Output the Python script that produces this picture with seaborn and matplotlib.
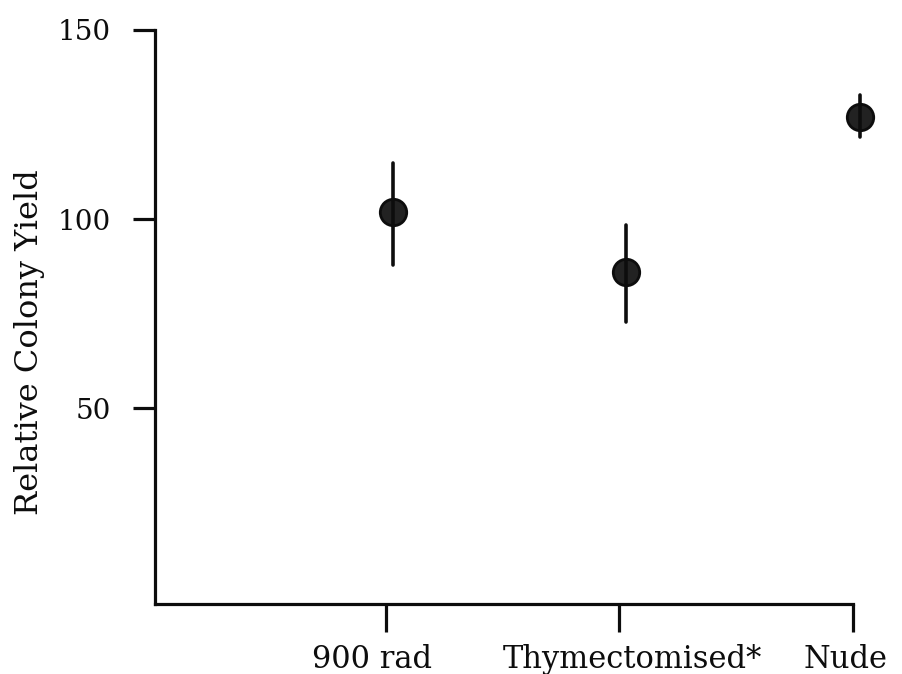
import numpy as np
import pandas as pd
import seaborn as sns
import matplotlib
matplotlib.use("Agg")
import matplotlib.pyplot as plt
from matplotlib.transforms import ScaledTranslation

# ---- data ----
categories = ["900 rad", "Thymectomised*", "Nude"]
yield_mean = [101.9, 86.0, 127.0]
yield_low = [87.8, 72.8, 121.7]
yield_high = [114.8, 98.4, 132.8]
y_ticks = [50, 100, 150]

# long-form table: low/mid/high per group -> median = mid, 100% interval = low..high
rows = []
for c, m, lo, hi in zip(categories, yield_mean, yield_low, yield_high):
    for v in (lo, m, hi):
        rows.append({"group": c, "value": v})
df = pd.DataFrame(rows)

sns.set_theme(style="white")
plt.rcParams["font.family"] = ["DejaVu Serif"]

INK = "#0d0d0d"

fig = plt.figure(figsize=(9.02, 6.74), dpi=100)
ax = fig.add_axes([155 / 902, 1 - 604 / 674, (853 - 155) / 902, (604 - 30) / 674])

sns.pointplot(
    data=df, x="group", y="value", order=categories,
    estimator="median", errorbar=("pi", 100),
    linestyle="none", marker="o", markersize=19,
    color="#222222", err_kws={"linewidth": 2.6, "color": INK},
    ax=ax,
)

# points sit slightly right of their tick marks in the reference
shift = ScaledTranslation(7 / 100, 0, fig.dpi_scale_trans)
for ln in ax.lines:
    ln.set_transform(ln.get_transform() + shift)
    ln.set_clip_on(False)
    ln.set_markeredgecolor(INK)
for coll in ax.collections:
    coll.set_transform(coll.get_transform() + shift)
    coll.set_clip_on(False)

ax.set_xlim(-0.989, 2.0)
ax.set_ylim(-1.85, 150)
ax.set_yticks(y_ticks)
ax.set_yticklabels([str(t) for t in y_ticks])
ax.set_xticks(range(len(categories)))
ax.set_xticklabels(categories)

for side in ("top", "right"):
    ax.spines[side].set_visible(False)
for side in ("left", "bottom"):
    ax.spines[side].set_visible(True)
    ax.spines[side].set_color(INK)
    ax.spines[side].set_linewidth(2.3)

ax.tick_params(axis="y", direction="out", length=16, width=2.3, color=INK,
               pad=16, labelsize=20, labelcolor=INK, left=True)
ax.tick_params(axis="x", direction="out", length=20, width=2.3, color=INK,
               pad=9, labelsize=22, labelcolor=INK, bottom=True)

# label centres in the reference are slightly off their ticks
label_dx = [-14, 13, -8]
for lab, dx in zip(ax.get_xticklabels(), label_dx):
    lab.set_transform(lab.get_transform() + ScaledTranslation(dx / 100, 0, fig.dpi_scale_trans))

ax.set_xlabel("")
ax.set_ylabel("Relative Colony Yield", fontsize=23, color=INK)
ax.yaxis.set_label_coords(-0.158, 0.456)

fig.savefig("out.png", dpi=100, facecolor="white")
